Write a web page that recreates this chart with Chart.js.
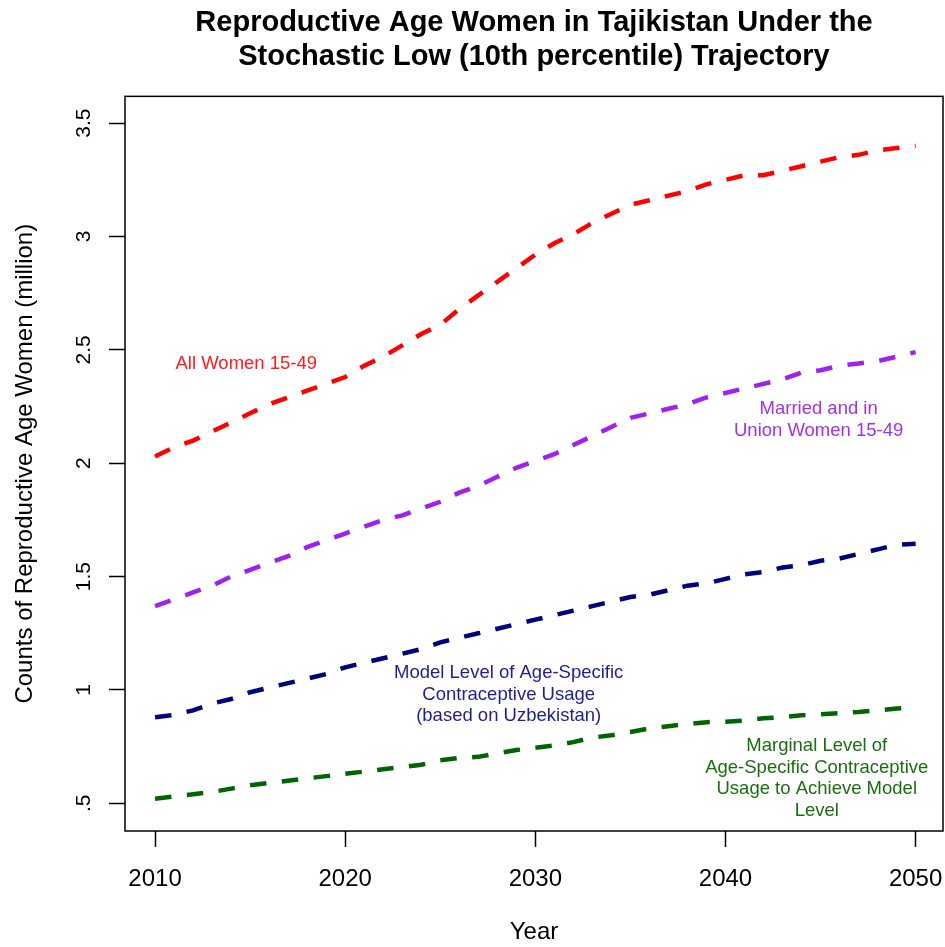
<!DOCTYPE html>
<html>
<head>
<meta charset="utf-8">
<title>Reproductive Age Women in Tajikistan</title>
<script src="https://cdn.jsdelivr.net/npm/chart.js@4"></script>
<style>
  html, body { margin: 0; padding: 0; background: #fff; }
  #wrap { width: 945px; height: 947px; }
</style>
</head>
<body>
<div id="wrap"><canvas id="c" width="945" height="947"></canvas></div>
<script>
// Years of the projection
const years = [2010, 2011, 2012, 2013, 2014, 2015, 2016, 2017, 2018, 2019,
               2020, 2021, 2022, 2023, 2024, 2025, 2026, 2027, 2028, 2029,
               2030, 2031, 2032, 2033, 2034, 2035, 2036, 2037, 2038, 2039,
               2040, 2041, 2042, 2043, 2044, 2045, 2046, 2047, 2048, 2049, 2050];

// Counts in millions
const allWomen = [2.03, 2.07, 2.10, 2.14, 2.18, 2.22, 2.26, 2.29, 2.32, 2.35,
                  2.38, 2.43, 2.47, 2.52, 2.57, 2.61, 2.68, 2.74, 2.80, 2.86,
                  2.92, 2.97, 3.01, 3.06, 3.10, 3.14, 3.16, 3.18, 3.20, 3.23,
                  3.25, 3.27, 3.27, 3.29, 3.31, 3.33, 3.35, 3.36, 3.38, 3.39, 3.40];
const marriedWomen = [1.37, 1.40, 1.43, 1.46, 1.50, 1.53, 1.56, 1.59, 1.63, 1.66,
                      1.69, 1.72, 1.75, 1.77, 1.80, 1.83, 1.87, 1.90, 1.94, 1.98,
                      2.01, 2.04, 2.08, 2.12, 2.16, 2.20, 2.22, 2.24, 2.26, 2.29,
                      2.31, 2.33, 2.35, 2.37, 2.40, 2.41, 2.43, 2.44, 2.45, 2.47, 2.49];
const modelUsage = [0.88, 0.89, 0.91, 0.94, 0.96, 0.99, 1.01, 1.03, 1.05, 1.07,
                    1.10, 1.12, 1.14, 1.16, 1.18, 1.21, 1.23, 1.25, 1.27, 1.29,
                    1.31, 1.33, 1.35, 1.37, 1.39, 1.41, 1.42, 1.44, 1.46, 1.47,
                    1.49, 1.51, 1.52, 1.54, 1.55, 1.57, 1.58, 1.60, 1.62, 1.64, 1.645];
const marginalUsage = [0.52, 0.53, 0.54, 0.55, 0.565, 0.58, 0.59, 0.60, 0.61, 0.62,
                       0.63, 0.64, 0.65, 0.66, 0.67, 0.69, 0.70, 0.705, 0.72, 0.735,
                       0.745, 0.755, 0.77, 0.79, 0.80, 0.815, 0.83, 0.84, 0.85, 0.858,
                       0.86, 0.865, 0.875, 0.88, 0.888, 0.893, 0.898, 0.903, 0.91, 0.918, 0.925];

// Axis ticks
const xTicks = [2010, 2020, 2030, 2040, 2050];
const yTicks = [0.5, 1, 1.5, 2, 2.5, 3, 3.5];
const yTickLabels = ['.5', '1', '1.5', '2', '2.5', '3', '3.5'];

// Series labels written beside the lines
const noteLines = [
  ['All Women 15-49'],
  ['Married and in', 'Union Women 15-49'],
  ['Model Level of Age-Specific', 'Contraceptive Usage', '(based on Uzbekistan)'],
  ['Marginal Level of', 'Age-Specific Contraceptive', 'Usage to Achieve Model', 'Level']
];
const noteYear = [2014.8, 2044.9, 2028.6, 2044.8];
const noteValue = [2.44, 2.19, 0.98, 0.61];

const FONT = "'Liberation Sans', Arial, Helvetica, sans-serif";
const colors = ['#FF0000', '#A020F0', '#000080', '#006400'];
const noteColors = ['#FF1A1A', '#A030F0', '#1E1E96', '#1A6E10'];

const toPoints = vals => years.map((yr, i) => ({ x: yr, y: vals[i] }));
const seriesNames = ['All Women 15-49', 'Married and in Union Women 15-49',
                     'Model Level of Age-Specific Contraceptive Usage',
                     'Marginal Level of Age-Specific Contraceptive Usage'];
const seriesValues = [allWomen, marriedWomen, modelUsage, marginalUsage];

const datasets = seriesValues.map((vals, i) => ({
  label: seriesNames[i],
  data: toPoints(vals),
  borderColor: colors[i],
  borderWidth: 4.5,
  borderDash: [16.5, 15.5],
  borderCapStyle: 'butt',
  borderJoinStyle: 'miter',
  pointRadius: 0,
  tension: 0,
  fill: false
}));

// Frame, rotated y tick labels and the line captions
const framePlugin = {
  id: 'framePlugin',
  afterDraw(chart) {
    const { ctx, chartArea: a, scales: { x, y } } = chart;
    ctx.save();
    ctx.setLineDash([]);
    ctx.strokeStyle = '#000';
    ctx.lineWidth = 1.5;
    ctx.strokeRect(a.left, a.top, a.right - a.left, a.bottom - a.top);

    ctx.fillStyle = '#000';
    ctx.font = `21px ${FONT}`;
    ctx.textAlign = 'center';
    ctx.textBaseline = 'middle';
    yTicks.forEach((v, i) => {
      const py = y.getPixelForValue(v);
      ctx.save();
      ctx.translate(a.left - 41, py);
      ctx.rotate(-Math.PI / 2);
      ctx.fillText(yTickLabels[i], 0, 0);
      ctx.restore();
    });

    ctx.font = `18.5px ${FONT}`;
    const lh = 21.5;
    noteLines.forEach((lines, i) => {
      const cx = x.getPixelForValue(noteYear[i]);
      const cy = y.getPixelForValue(noteValue[i]);
      const top = cy - (lines.length - 1) * lh / 2;
      ctx.fillStyle = noteColors[i];
      lines.forEach((t, j) => ctx.fillText(t, cx, top + j * lh));
    });
    ctx.restore();
  }
};

// Drop the extra room that scales reserve for overhanging tick labels
const noOverhang = s => {
  s.paddingLeft = 0; s.paddingRight = 0; s.paddingTop = 0; s.paddingBottom = 0;
};

new Chart(document.getElementById('c'), {
  type: 'line',
  data: { datasets },
  plugins: [framePlugin],
  options: {
    responsive: false,
    animation: false,
    devicePixelRatio: 1,
    layout: { autoPadding: false, padding: { left: 0, right: 2, top: 0, bottom: 0 } },
    plugins: {
      legend: { display: false },
      tooltip: { enabled: false },
      title: {
        display: true,
        fullSize: false,
        text: ['Reproductive Age Women in Tajikistan Under the',
               'Stochastic Low (10th percentile) Trajectory'],
        color: '#000',
        font: { family: FONT, size: 29, weight: 'bold', lineHeight: 1.17 },
        padding: { top: 6, bottom: 22.5 }
      }
    },
    scales: {
      x: {
        type: 'linear',
        min: 2008.42,
        max: 2051.44,
        afterBuildTicks: s => { s.ticks = xTicks.map(v => ({ value: v })); },
        afterFit: s => { s.height = 116; noOverhang(s); },
        border: { display: false },
        grid: { drawOnChartArea: false, drawTicks: true, tickLength: 16, tickColor: '#000', tickWidth: 1.5 },
        ticks: {
          color: '#000',
          padding: 18,
          maxRotation: 0,
          font: { family: FONT, size: 24 },
          callback: v => String(v)
        },
        title: {
          display: true,
          text: 'Year',
          color: '#000',
          font: { family: FONT, size: 24 },
          padding: 0
        }
      },
      y: {
        type: 'linear',
        min: 0.378,
        max: 3.618,
        afterBuildTicks: s => { s.ticks = yTicks.map(v => ({ value: v })); },
        afterFit: s => { s.width = 125; noOverhang(s); },
        border: { display: false },
        grid: { drawOnChartArea: false, drawTicks: true, tickLength: 16, tickColor: '#000', tickWidth: 1.5 },
        ticks: { display: false },
        title: {
          display: true,
          text: 'Counts of Reproductive Age Women (million)',
          color: '#000',
          font: { family: FONT, size: 24 },
          padding: { top: 11, bottom: 0 }
        }
      }
    }
  }
});
</script>
</body>
</html>
